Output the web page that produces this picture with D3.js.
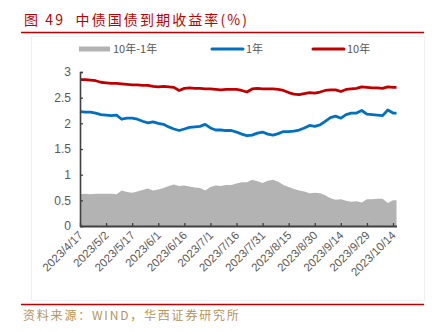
<!DOCTYPE html>
<html>
<head>
<meta charset="utf-8">
<script src="https://cdn.jsdelivr.net/npm/d3@7/dist/d3.min.js"></script>
<style>
  html, body { margin: 0; padding: 0; background: #fff; }
  svg { display: block; }
</style>
</head>
<body>
<svg id="chart" width="436" height="332"></svg>
<script>
// 中债国债到期收益率 (%), 2023-04-17 ~ 2023-10-16
const dates = [
  "2023-04-17","2023-04-20","2023-04-23","2023-04-26","2023-04-29","2023-05-02","2023-05-05","2023-05-08",
  "2023-05-11","2023-05-14","2023-05-17","2023-05-20","2023-05-23","2023-05-26","2023-05-29","2023-06-01",
  "2023-06-04","2023-06-07","2023-06-10","2023-06-13","2023-06-16","2023-06-19","2023-06-22","2023-06-25",
  "2023-06-28","2023-07-01","2023-07-04","2023-07-07","2023-07-10","2023-07-13","2023-07-16","2023-07-19",
  "2023-07-22","2023-07-25","2023-07-28","2023-07-31","2023-08-03","2023-08-06","2023-08-09","2023-08-12",
  "2023-08-15","2023-08-18","2023-08-21","2023-08-24","2023-08-27","2023-08-30","2023-09-02","2023-09-05",
  "2023-09-08","2023-09-11","2023-09-14","2023-09-17","2023-09-20","2023-09-23","2023-09-26","2023-09-29",
  "2023-10-02","2023-10-05","2023-10-08","2023-10-11","2023-10-14","2023-10-16"
];

// 10年期国债收益率
const y10 = [
  2.85,2.85,2.84,2.83,2.80,2.79,2.78,2.78,
  2.77,2.76,2.75,2.75,2.74,2.74,2.72,2.71,
  2.72,2.71,2.70,2.64,2.68,2.69,2.68,2.68,
  2.67,2.67,2.66,2.65,2.66,2.66,2.66,2.64,
  2.61,2.67,2.68,2.67,2.67,2.67,2.66,2.64,
  2.60,2.57,2.56,2.58,2.60,2.59,2.61,2.64,
  2.65,2.65,2.62,2.66,2.67,2.68,2.71,2.70,
  2.69,2.69,2.68,2.71,2.70,2.70
];

// 1年期国债收益率
const y1 = [
  2.23,2.22,2.22,2.20,2.17,2.16,2.15,2.16,
  2.08,2.10,2.10,2.08,2.04,2.01,2.03,2.00,
  1.98,1.93,1.89,1.86,1.89,1.92,1.93,1.94,
  1.98,1.91,1.87,1.87,1.86,1.86,1.83,1.79,
  1.76,1.77,1.81,1.83,1.79,1.77,1.80,1.84,
  1.84,1.85,1.87,1.91,1.96,1.94,1.97,2.04,
  2.11,2.14,2.10,2.17,2.20,2.20,2.25,2.18,
  2.17,2.16,2.15,2.26,2.20,2.20
];

const tickDates = ["2023-04-17","2023-05-02","2023-05-17","2023-06-01","2023-06-16","2023-07-01","2023-07-16",
                   "2023-07-31","2023-08-15","2023-08-30","2023-09-14","2023-09-29","2023-10-14"];
const yTicks = [0, 0.5, 1, 1.5, 2, 2.5, 3];
const legendNames = ["10年-1年", "1年", "10年"];

const parse = d3.timeParse("%Y-%m-%d");
const fmt = d3.timeFormat("%Y/%-m/%-d");

const rows = dates.map((d, i) => ({
  date: parse(d),
  ten: y10[i],
  one: y1[i],
  spread: +(y10[i] - y1[i]).toFixed(2)  // 10年-1年 利差
}));

const svg = d3.select("#chart");
const RED = "#c00000", BLUE = "#0070c0", GRAY = "#b3b3b3", TXT = "#595959", AX = "#404040";
const latin = "'Liberation Sans', Arial, 'Noto Sans CJK SC', sans-serif";
const cjk = "'Noto Sans CJK SC', 'Liberation Sans', sans-serif";

// 外框（浅色）
svg.append("rect")
  .attr("x", 31.5).attr("y", 36.5).attr("width", 393).attr("height", 264)
  .attr("fill", "none").attr("stroke", "#f0f0f0").attr("stroke-width", 1);

// 标题
svg.append("text")
  .attr("x", 24).attr("y", 25)
  .attr("fill", RED)
  .style("font-family", cjk).style("font-size", "14px")
  .style("letter-spacing", "2.1px")
  .attr("xml:space", "preserve")
  .text("图 49  中债国债到期收益率(%)");

svg.append("line")
  .attr("x1", 21).attr("x2", 424).attr("y1", 32.5).attr("y2", 32.5)
  .attr("stroke", RED).attr("stroke-width", 1.6);

// 来源
svg.append("line")
  .attr("x1", 21).attr("x2", 424).attr("y1", 304.5).attr("y2", 304.5)
  .attr("stroke", RED).attr("stroke-width", 1.6);

svg.append("text")
  .attr("x", 23).attr("y", 320)
  .attr("fill", "#b8935a")
  .style("font-family", cjk).style("font-size", "12px")
  .style("letter-spacing", "1.8px")
  .text("资料来源：WIND，华西证券研究所");

// 比例尺
const x = d3.scaleTime()
  .domain([parse("2023-04-17"), parse("2023-10-16")])
  .range([80, 396.5]);
const y = d3.scaleLinear().domain([0, 3]).range([226, 72]);

// 利差面积
const area = d3.area()
  .x(d => x(d.date))
  .y0(y(0))
  .y1(d => y(d.spread));
svg.append("path").datum(rows)
  .attr("d", area)
  .attr("fill", GRAY);

// 收益率曲线
const lineOf = key => d3.line().x(d => x(d.date)).y(d => y(d[key]));
svg.append("path").datum(rows)
  .attr("d", lineOf("one"))
  .attr("fill", "none").attr("stroke", BLUE).attr("stroke-width", 2.8)
  .attr("stroke-linejoin", "round");
svg.append("path").datum(rows)
  .attr("d", lineOf("ten"))
  .attr("fill", "none").attr("stroke", RED).attr("stroke-width", 2.8)
  .attr("stroke-linejoin", "round");

// Y 轴
const yAxis = d3.axisLeft(y)
  .tickValues(yTicks)
  .tickSize(-3)
  .tickPadding(9)
  .tickFormat(d => d3.format("")(d));
const gy = svg.append("g").attr("transform", "translate(80,0)").call(yAxis);
gy.select(".domain").attr("stroke", AX).attr("stroke-width", 1.6);
gy.selectAll(".tick line").attr("stroke", AX).attr("stroke-width", 1.3);
gy.selectAll(".tick text")
  .attr("fill", TXT)
  .style("font-family", latin).style("font-size", "12px");

// X 轴
const xAxis = d3.axisBottom(x)
  .tickValues(tickDates.map(parse))
  .tickSize(-3)
  .tickSizeOuter(0)
  .tickFormat(fmt);
const gx = svg.append("g").attr("transform", `translate(0,${y(0)})`).call(xAxis);
gx.select(".domain").attr("stroke", AX).attr("stroke-width", 1.8);
gx.selectAll(".tick line").attr("stroke", AX).attr("stroke-width", 1.3);
gx.selectAll(".tick text")
  .attr("fill", TXT)
  .style("font-family", latin).style("font-size", "11.5px")
  .attr("text-anchor", "end")
  .attr("dy", null).attr("y", 0)
  .attr("transform", "translate(3,10) rotate(-45)");

// 图例
const lg = svg.append("g").style("font-family", cjk).style("font-size", "11px");
lg.append("rect").attr("x", 79).attr("y", 46.5).attr("width", 31).attr("height", 5).attr("fill", GRAY);
lg.append("text").attr("x", 113).attr("y", 53).attr("fill", TXT).text(legendNames[0]);
lg.append("line").attr("x1", 212).attr("x2", 243).attr("y1", 49).attr("y2", 49)
  .attr("stroke", BLUE).attr("stroke-width", 3).attr("stroke-linecap", "round");
lg.append("text").attr("x", 246).attr("y", 53).attr("fill", TXT).text(legendNames[1]);
lg.append("line").attr("x1", 313).attr("x2", 344).attr("y1", 49).attr("y2", 49)
  .attr("stroke", RED).attr("stroke-width", 3).attr("stroke-linecap", "round");
lg.append("text").attr("x", 347).attr("y", 53).attr("fill", TXT).text(legendNames[2]);
</script>
</body>
</html>
